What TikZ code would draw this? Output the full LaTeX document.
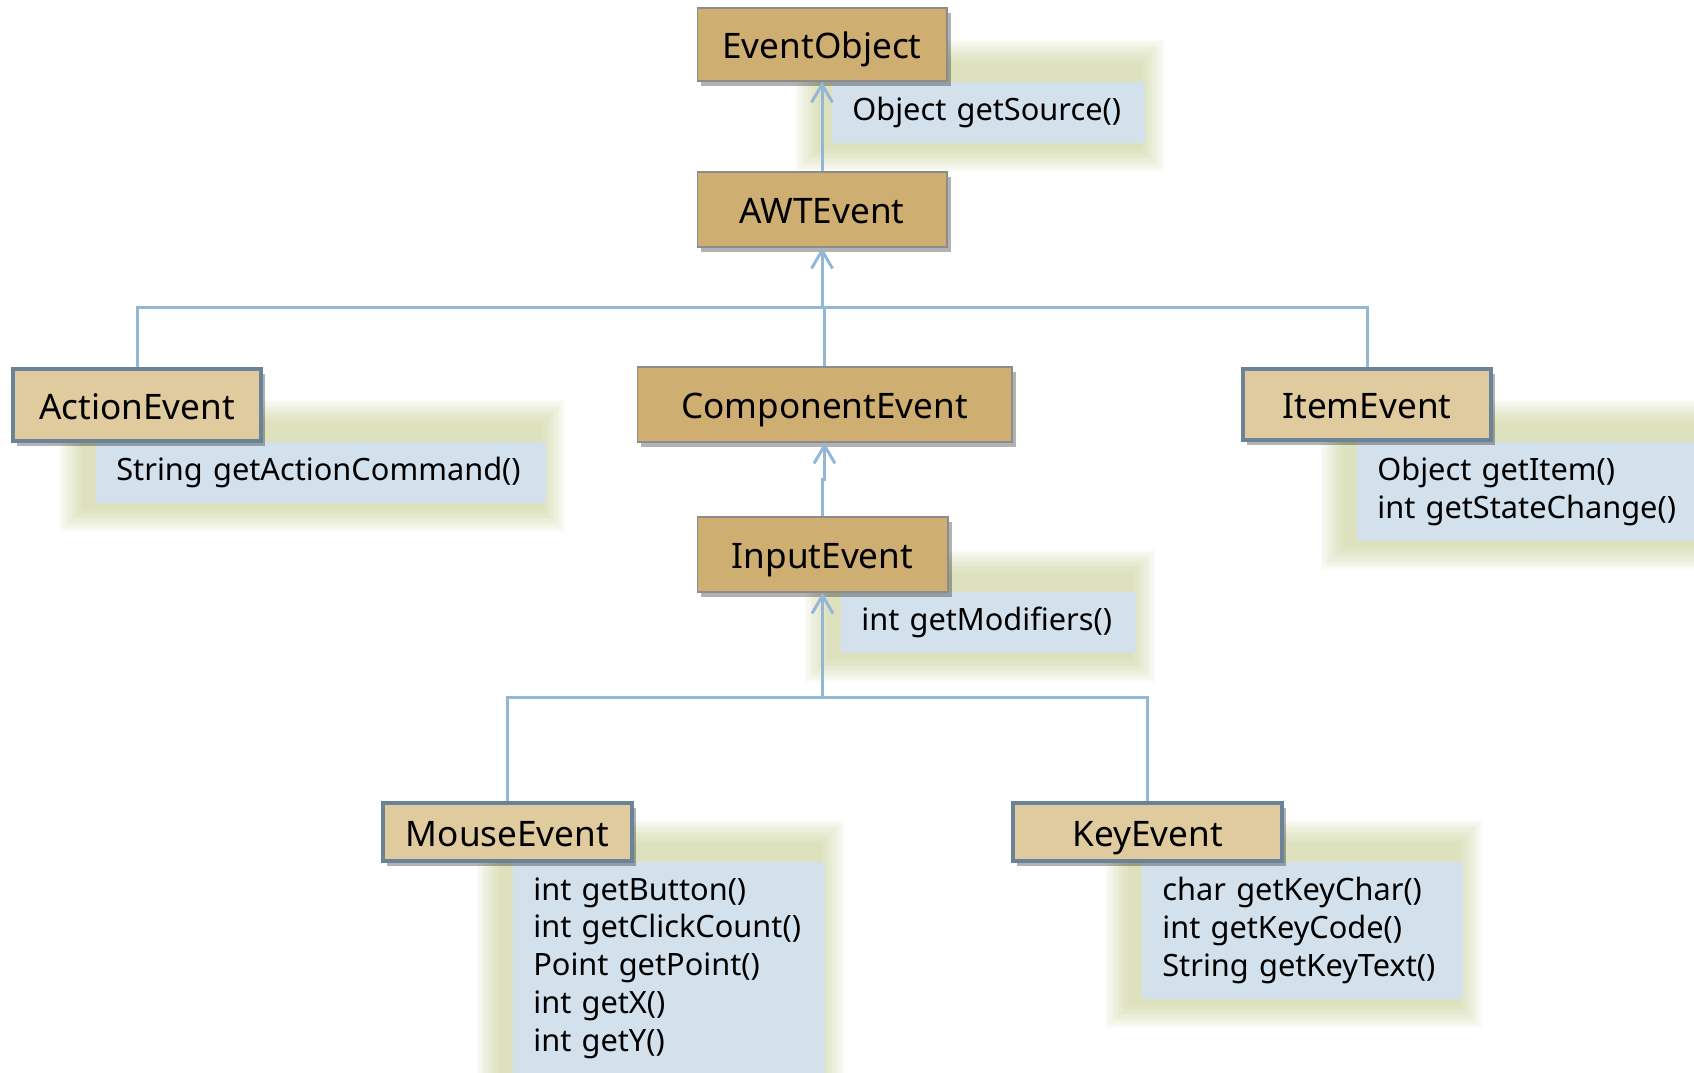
\documentclass[tikz,border=0pt]{standalone}
\usepackage{fontspec}
\setmainfont{Noto Sans}
\usetikzlibrary{arrows.meta,shadows,backgrounds,calc}
\definecolor{basefill}{RGB}{207,174,114}
\definecolor{basedraw}{RGB}{140,140,140}
\definecolor{subfill}{RGB}{224,203,159}
\definecolor{subdraw}{RGB}{107,131,153}
\definecolor{notefill}{RGB}{211,225,236}
\definecolor{glowcol}{RGB}{190,198,130}
\definecolor{linecol}{RGB}{148,183,214}
\begin{document}
\begin{tikzpicture}[x=0.02cm,y=-0.02cm,
    base/.style={rectangle, draw=basedraw, line width=0.6pt, fill=basefill, inner sep=0pt,
      font=\fontsize{20}{24}\selectfont, text height=18pt, text depth=1.6pt,
      drop shadow={shadow xshift=0.08cm, shadow yshift=-0.1cm, opacity=0.3, fill=black}},
    sub/.style={base, draw=subdraw, line width=0.08cm, fill=subfill},
    note/.style={rectangle, fill=notefill, anchor=north west, inner xsep=0.4cm, inner ysep=0.3cm,
      minimum height=1.16cm, text width=#1, align=left, font=\fontsize{17.5}{21.6}\selectfont,
      execute at begin node={\hyphenpenalty=10000}},
    link/.style={draw=linecol, line width=0.06cm},
    arrow/.style={link, -{Straight Barb[length=0.36cm, width=0.42cm]}}]
    \useasboundingbox (0,0) rectangle (1694,1072);
    \clip (0,0) rectangle (1694,1072);

    % method notes
    \node[note=5.46cm] (srcnote) at (832,82) {Object getSource()};
    \node[note=8.2cm] (actnote) at (96,442) {String getActionCommand()};
    \node[note=6.6cm] (itemnote) at (1357,442) {Object getItem()\\int getStateChange()};
    \node[note=5.1cm] (modnote) at (841,592) {int getModifiers()};
    \node[note=5.44cm] (mousenote) at (513,862) {int getButton()\\int getClickCount()\\Point getPoint()\\int getX()\\int getY()};
    \node[note=5.62cm] (keynote) at (1142,862) {char getKeyChar()\\int getKeyCode()\\String getKeyText()};

    \begin{scope}[on background layer]
        \foreach \n in {srcnote,actnote,itemnote,modnote,mousenote,keynote}
            \foreach \k in {0,...,9}
                \fill[glowcol, opacity=0.07] ($(\n.north west)+({-14-2.5*\k},{-20-2.5*\k})$) rectangle ($(\n.south east)+({-4+2.5*\k},{6+2.5*\k})$);
    \end{scope}

    % classes
    \node[base, minimum width=5cm, minimum height=1.46cm] (evobj) at (822,44.5) {EventObject};
    \node[base, minimum width=5cm, minimum height=1.5cm] (awt) at (822,209.5) {AWTEvent};
    \node[sub, minimum width=4.96cm, minimum height=1.44cm] (action) at (137,405) {ActionEvent};
    \node[base, minimum width=7.5cm, minimum height=1.5cm] (comp) at (824.5,404.5) {ComponentEvent};
    \node[sub, minimum width=4.96cm, minimum height=1.42cm] (item) at (1367,404.5) {ItemEvent};
    \node[base, minimum width=5.02cm, minimum height=1.5cm] (input) at (822.5,554.5) {InputEvent};
    \node[sub, minimum width=4.98cm, minimum height=1.16cm] (mouse) at (507.5,832) {MouseEvent};
    \node[sub, minimum width=5.38cm, minimum height=1.16cm] (key) at (1147.5,832) {KeyEvent};

    \coordinate (bus1) at (822,307);
    \coordinate (jog) at (824.5,479);
    \coordinate (bus2) at (822.5,697);

    \draw[arrow] (awt.north) -- (evobj.south);
    \draw[arrow] (bus1) -- (awt.south);
    \draw[link] (action.north) |- (bus1) -| (item.north);
    \draw[link] (comp.north) -- (comp.north |- bus1);
    \draw[arrow] (input.north) |- (jog) -- (comp.south);
    \draw[link] (mouse.north) |- (bus2) -| (key.north);
    \draw[arrow] (bus2) -- (input.south);

\end{tikzpicture}
\end{document}
